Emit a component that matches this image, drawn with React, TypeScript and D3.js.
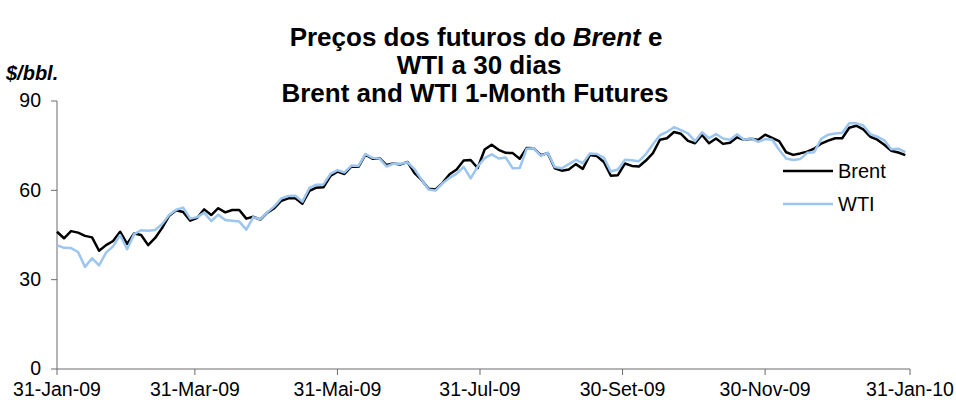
import React from 'react';
import * as d3 from 'd3';

// prices sampled every 3 calendar days from 31-Jan-09 to 29-Jan-10
const startDate = new Date(2009, 0, 31);
const dayStep = 3;

const brent = [
  46.1, 43.9, 46.3, 45.8, 44.7, 44.2, 39.7, 41.6, 43.0, 46.1,
  42.0, 45.5, 45.0, 41.6, 44.0, 47.4, 51.5, 53.3, 52.7, 49.8,
  50.8, 53.6, 51.7, 54.0, 52.6, 53.4, 53.4, 50.5, 51.1, 50.2,
  52.5, 54.0, 56.5, 57.3, 57.3, 55.5, 59.8, 60.9, 61.0, 64.8,
  66.3, 65.5, 68.0, 67.9, 72.0, 70.6, 70.8, 68.5, 69.0, 68.7,
  69.5, 65.8, 63.5, 60.5, 60.3, 62.5, 65.4, 67.0, 70.0, 70.2,
  67.5, 73.7, 75.3, 73.6, 72.6, 72.5, 70.6, 74.2, 74.1, 71.8,
  72.5, 67.4, 66.6, 67.0, 68.8, 67.2, 71.9, 71.5, 69.5, 64.9,
  65.1, 69.0, 68.2, 68.0, 70.0, 72.5, 77.0, 77.5, 79.6, 79.0,
  76.6, 75.8, 78.6, 75.8, 77.4, 75.6, 76.0, 77.8, 77.0, 77.3,
  76.9, 78.7, 77.6, 76.5, 72.8, 71.9, 72.4, 73.0, 74.0, 75.7,
  76.7, 77.5, 77.5, 81.0, 81.7, 80.5, 78.0, 77.0, 75.3, 73.3,
  72.7, 71.8,
];

const wti = [
  41.6, 40.7, 40.6, 39.3, 34.3, 37.2, 34.8, 39.1, 41.2, 45.0,
  40.2, 45.3, 46.6, 46.4, 46.7, 48.7, 51.7, 53.5, 54.2, 50.5,
  51.0, 52.5, 49.7, 51.8, 50.0, 49.8, 49.5, 46.8, 51.0, 50.3,
  52.6, 54.6, 57.3, 58.1, 58.2, 56.2, 60.8, 61.9, 62.0, 65.5,
  66.8, 66.0, 68.3, 68.2, 72.2, 70.9, 70.7, 68.0, 69.0, 68.9,
  69.4, 67.1, 63.6, 60.3, 59.9, 62.4, 64.2, 65.6, 67.9, 64.0,
  68.0, 70.8, 72.1, 70.7, 71.0, 67.4, 67.5, 74.0, 74.1, 71.6,
  72.6, 67.8, 67.4, 68.8, 70.2, 69.1, 72.4, 72.2, 71.0, 66.3,
  67.0, 70.3, 70.1, 69.8, 72.2, 75.5, 78.5, 79.6, 81.2, 80.2,
  79.1, 76.5, 79.5, 77.5, 78.9, 77.4, 77.0, 78.8, 77.0, 77.5,
  76.3, 77.2, 77.0, 73.6, 70.7, 70.2, 70.5, 72.6, 72.8, 77.3,
  78.7, 79.1, 79.3, 82.5, 82.5, 81.8, 78.9, 78.0, 76.8, 73.8,
  74.0, 72.8,
];

const tickDates = [
  new Date(2009, 0, 31), new Date(2009, 2, 31), new Date(2009, 4, 31), new Date(2009, 6, 31),
  new Date(2009, 8, 30), new Date(2009, 10, 30), new Date(2010, 0, 31),
];
const tickLabels = ['31-Jan-09', '31-Mar-09', '31-Mai-09', '31-Jul-09', '30-Set-09', '30-Nov-09', '31-Jan-10'];
const yTicks = [0, 30, 60, 90];

const titleLines = ['Preços dos futuros do ', 'WTI a 30 dias', 'Brent and WTI 1-Month Futures'];

const colors = {
  brent: '#000000',
  wti: '#9cc6f0',
  axis: '#6b6b6b',
  text: '#000000',
};

const font = 'Arial, "Liberation Sans", sans-serif';

export default function App() {
  const width = 956;
  const height = 402;
  const left = 57;
  const right = 910;
  const top = 101;
  const bottom = 369;

  const dates = brent.map((_, i) => d3.timeDay.offset(startDate, i * dayStep));

  const x = d3.scaleTime().domain([tickDates[0], tickDates[tickDates.length - 1]]).range([left, right]);
  const y = d3.scaleLinear().domain([0, 90]).range([bottom, top]);

  const line = d3
    .line<number>()
    .x((_, i) => x(dates[i]))
    .y((d) => y(d));

  return (
    <svg width={width} height={height} style={{ position: 'absolute', left: 0, top: 0, background: '#fff' }} fontFamily={font}>
      {/* title */}
      <text x={476} y={46} textAnchor="middle" fontSize={26} fontWeight="bold" fill={colors.text}>
        {titleLines[0]}
        <tspan fontStyle="italic">Brent</tspan>
        {' e'}
      </text>
      <text x={479} y={74} textAnchor="middle" fontSize={26} fontWeight="bold" fill={colors.text}>
        {titleLines[1]}
      </text>
      <text x={475} y={102} textAnchor="middle" fontSize={26} fontWeight="bold" fill={colors.text}>
        {titleLines[2]}
      </text>

      <text x={6} y={80} fontSize={20} fontWeight="bold" fontStyle="italic" fill={colors.text}>
        $/bbl.
      </text>

      {/* y axis */}
      <line x1={left} x2={left} y1={top} y2={bottom} stroke={colors.axis} strokeWidth={1} />
      {yTicks.map((t) => (
        <g key={t}>
          <line x1={left - 6} x2={left} y1={y(t)} y2={y(t)} stroke={colors.axis} />
          <text x={41} y={y(t)} dy="0.32em" textAnchor="end" fontSize={19.5} fill={colors.text}>
            {t}
          </text>
        </g>
      ))}

      {/* x axis */}
      <line x1={left} x2={right} y1={bottom} y2={bottom} stroke={colors.axis} strokeWidth={1} />
      {tickDates.map((d, i) => (
        <g key={i}>
          <line x1={x(d)} x2={x(d)} y1={bottom} y2={bottom + 6} stroke={colors.axis} />
          <text x={x(d)} y={396} textAnchor="middle" fontSize={19.5} fill={colors.text}>
            {tickLabels[i]}
          </text>
        </g>
      ))}

      {/* series */}
      <path d={line(brent) ?? ''} fill="none" stroke={colors.brent} strokeWidth={2.5} strokeLinejoin="round" />
      <path d={line(wti) ?? ''} fill="none" stroke={colors.wti} strokeWidth={2.5} strokeLinejoin="round" />

      {/* legend */}
      <line x1={783} x2={833} y1={171} y2={171} stroke={colors.brent} strokeWidth={2.5} />
      <text x={838} y={178} fontSize={20} fill={colors.text}>Brent</text>
      <line x1={783} x2={833} y1={204} y2={204} stroke={colors.wti} strokeWidth={2.5} />
      <text x={838} y={211} fontSize={20} fill={colors.text}>WTI</text>
    </svg>
  );
}
